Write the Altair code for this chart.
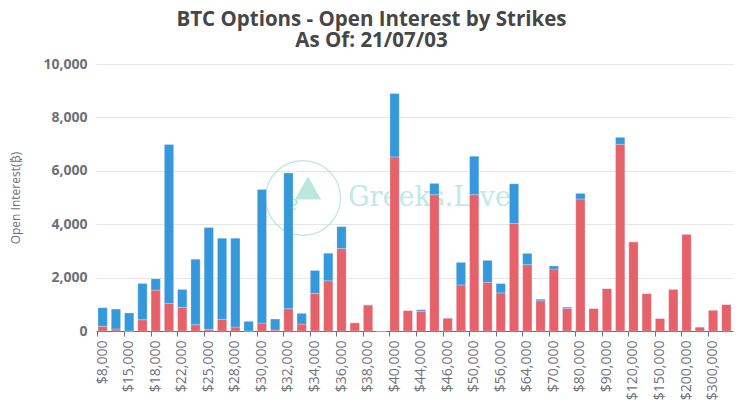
import altair as alt
import pandas as pd

strikes = ["$8,000", "$10,000", "$15,000", "$16,000", "$18,000", "$20,000", "$22,000", "$24,000",
           "$25,000", "$26,000", "$28,000", "$29,000", "$30,000", "$31,000", "$32,000", "$33,000",
           "$34,000", "$35,000", "$36,000", "$37,000", "$38,000", "$39,000", "$40,000", "$42,000",
           "$44,000", "$45,000", "$46,000", "$48,000", "$50,000", "$52,000", "$56,000", "$60,000",
           "$64,000", "$68,000", "$70,000", "$75,000", "$80,000", "$85,000", "$90,000", "$100,000",
           "$120,000", "$140,000", "$150,000", "$160,000", "$200,000", "$240,000", "$300,000", "$400,000"]

calls = [174, 75, 0, 423, 1531, 1033, 884, 237, 62, 436, 149, 0, 299, 37, 834, 261,
         1407, 1880, 3088, 311, 971, 0, 6520, 770, 733, 5105, 484, 1726, 5105, 1826, 1428, 4024,
         2484, 1130, 2322, 845, 4943, 845, 1590, 6992, 3341, 1403, 472, 1565, 3627, 149, 782, 994]

puts = [697, 747, 672, 1357, 424, 5952, 672, 2452, 3810, 3038, 3325, 361, 5005, 411, 5080, 399,
        859, 1033, 821, 0, 10, 0, 2373, 0, 62, 422, 0, 845, 1440, 819, 348, 1490,
        422, 62, 112, 49, 211, 0, 0, 261, 0, 0, 0, 0, 0, 0, 0, 0]

series = ["Calls", "Puts"]
colors = ["#e5626b", "#3498db"]
shown_labels = strikes[::2]
y_ticks = [0, 2000, 4000, 6000, 8000, 10000]
title_text = "BTC Options - Open Interest by Strikes"
subtitle_text = "As Of: 21/07/03"

rows = []
for i, s in enumerate(strikes):
    rows.append({"strike": s, "type": "Calls", "oi": calls[i], "ord": 0})
    rows.append({"strike": s, "type": "Puts", "oi": puts[i], "ord": 1})
df = pd.DataFrame(rows)

FONT = "Open Sans"

bars = alt.Chart(df).mark_bar(stroke="white", strokeWidth=0.5, strokeOpacity=0.5).encode(
    x=alt.X("strike:N", sort=strikes,
            scale=alt.Scale(paddingInner=0.3, paddingOuter=0.15),
            axis=alt.Axis(title=None, values=shown_labels, labelAngle=270, labelFontSize=14,
                          labelColor="#6e7079", labelFont=FONT, labelPadding=4,
                          domainColor="#6e7079", tickColor="#6e7079", tickSize=5,
                          bandPosition=0, grid=False, labelOverlap=False)),
    y=alt.Y("oi:Q", stack="zero",
            scale=alt.Scale(domain=[0, 10000], nice=False),
            axis=alt.Axis(title="Open Interest(₿)", values=y_ticks,
                          format=",.0f", labelFontSize=14, labelFontWeight="bold", labelColor="#6e7079",
                          labelFont=FONT, labelPadding=9, domain=False, ticks=False,
                          gridColor="#e6e6e6", titleFont=FONT, titleFontSize=12,
                          titleFontWeight="normal", titleColor="#6e7079", titlePadding=20)),
    color=alt.Color("type:N", scale=alt.Scale(domain=series, range=colors), legend=None),
    order=alt.Order("ord:Q"),
)

wm = pd.DataFrame({"t": ["Greeks.Live"], "e": ["e"]})
wm_circle = alt.Chart(wm).mark_point(shape="circle", filled=False, stroke="#a9e2da",
                                     strokeWidth=1.2, opacity=0.8).encode(
    x=alt.value(207), y=alt.value(134), size=alt.value(5600))
wm_text = alt.Chart(wm).mark_text(font="DejaVu Serif", fontSize=27, color="#b5e6df",
                                  align="left", baseline="alphabetic", opacity=0.85).encode(
    x=alt.value(252), y=alt.value(142), text="t:N")
wm_e = alt.Chart(wm).mark_text(font="DejaVu Serif", fontSize=22, fontStyle="italic",
                               color="#a9e2da", opacity=0.85).encode(
    x=alt.value(196), y=alt.value(140), text="e:N")
wm_tri = alt.Chart(wm).mark_point(shape="triangle-up", filled=True, color="#a9e2da",
                                  opacity=0.8).encode(
    x=alt.value(212), y=alt.value(124), size=alt.value(700))

chart = alt.layer(wm_circle, wm_tri, wm_e, wm_text, bars).properties(
    width=637, height=267,
    title=alt.TitleParams(title_text, subtitle=subtitle_text, font=FONT, fontSize=20.5,
                          fontWeight="bold", color="#464646", subtitleFont=FONT,
                          subtitleFontSize=20.5, subtitleFontWeight="bold", subtitleColor="#464646",
                          subtitlePadding=0, anchor="middle", frame="bounds", offset=6),
    autosize=alt.AutoSizeParams(type="none"),
    padding={"left": 88, "top": 56, "right": 2, "bottom": 78},
).configure_view(stroke=None)

chart.save("out.html", embed_options={"renderer": "svg", "actions": False})
